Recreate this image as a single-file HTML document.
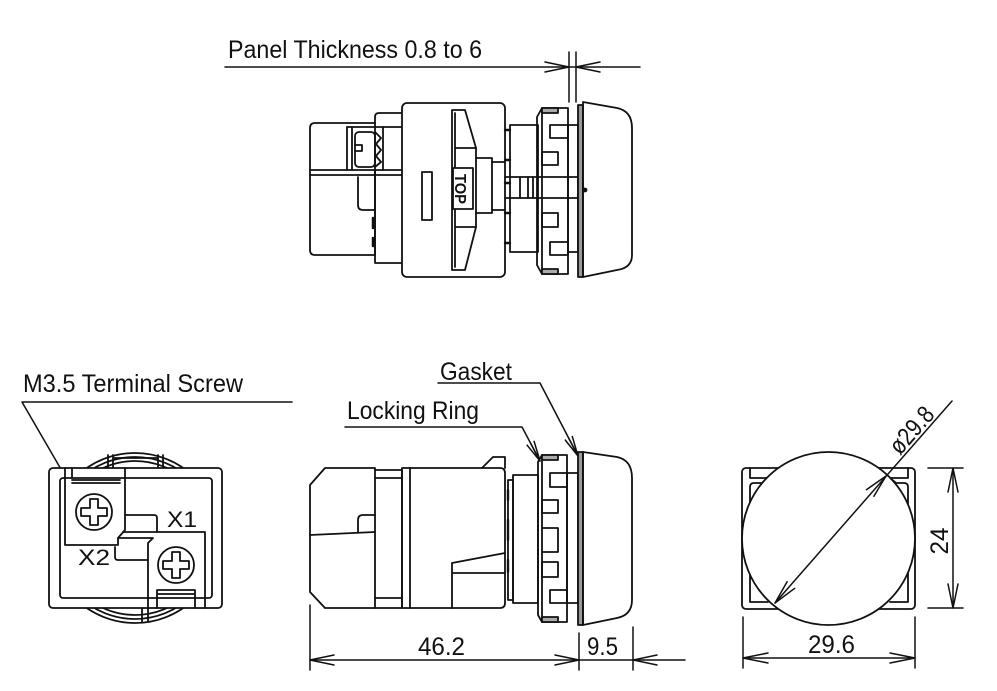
<!DOCTYPE html>
<html><head><meta charset="utf-8"><style>
html,body{margin:0;padding:0;background:#fff;}
svg{display:block;}
text{font-family:"Liberation Sans Narrow","Liberation Sans",sans-serif;fill:#111;}
</style></head><body>
<svg width="997" height="691" viewBox="0 0 997 691" xmlns="http://www.w3.org/2000/svg">
<rect width="997" height="691" fill="#fff"/>

<g fill="none" stroke="#111" stroke-width="1.8" stroke-linejoin="round" stroke-linecap="round">

<!-- ============ DIMENSIONS / LEADERS ============ -->
<g stroke-width="1.5">
  <path d="M225,67 H640"/>
  <path d="M545,62 L569,67 L545,72"/>
  <path d="M600,62 L576,67 L600,72"/>
  <path d="M569,52 V102 M576,52 V102"/>
  <path d="M310,605 V670 M579,633 V670 M633,627 V670 M310,660 H685"/>
  <path d="M334,655 L310,660 L334,665"/>
  <path d="M555,655 L579,660 L555,665"/>
  <path d="M657,655 L633,660 L657,665"/>
  <path d="M928,468 H963 M928,608 H963 M953,468 V608"/>
  <path d="M948,492 L953,468 L958,492"/>
  <path d="M948,584 L953,608 L958,584"/>
  <path d="M743,617 V668 M915,617 V668 M743,658 H915"/>
  <path d="M768,653 L743,658 L768,663"/>
  <path d="M890,653 L915,658 L890,663"/>
  <path d="M438,383 H540 L578,456"/>
  <path d="M572.3,436.5 L578,456 L565.3,440.1 M568.8,438.3 L578,456"/>
  <path d="M345,427 H522 L540,461"/>
  <path d="M534.1,441.4 L540,461 L527.1,445.2 M530.6,443.3 L540,461"/>
  <path d="M22,402 H292 M22,402 L80,502"/>
  <path d="M73.5,482.7 L80,502 L66.5,486.7 M70,484.7 L80,502"/>
</g>

<!-- ============ TOP VIEW ============ -->
<path d="M315,123 H375 V255 H315 Q310,255 310,250 V128 Q310,123 315,123 Z"/>
<path d="M375,123 V117 Q375,113 379,113 H402"/>
<path d="M375,170 V263 H402"/>
<path d="M347,127 H407 M310,170 H407 M310,175 H407"/>
<path d="M347,127 V170 M352,127 V170"/>
<rect x="355" y="132" width="20" height="35" rx="4"/>
<path d="M355,145 H362 V151 H355"/>
<path d="M375,132 L381,138 L376,144 L381,150 L376,156 L381,162 L375,167"/>
<path d="M383,127 V170"/>
<path d="M358,177 V205 Q358,210 363,210 H375"/>
<path d="M373,218 V228 M373,238 V246" stroke-width="2.5"/>
<rect x="402" y="103" width="103" height="174" rx="5" fill="#fff"/>
<rect x="422" y="172" width="10" height="48"/>
<path d="M452,270 V110 H465 L476,148 V227 L465,270 Z"/>
<path d="M455,113 V267"/>
<path d="M455,148 H476 M455,227 H476"/>
<path d="M476,158 H492 V213 H476"/>
<path d="M492,162 H505 M492,210 H505"/>
<rect x="453" y="168" width="20" height="41" fill="#fff"/>
<rect x="510" y="125" width="28" height="127"/>
<path d="M505,130 H510 M505,160 H510 M505,183 H510 M505,213 H510 M505,243 H510" stroke-width="2.4"/>
<path d="M505,177 H578 M505,198 H578"/>
<path d="M520,177 V198 M528,177 V198 M533,177 V198"/>
<path d="M537,117 L542,108 H568 V274 H542 L537,265 Z"/>
<path d="M542,108 V274"/>
<rect x="542" y="108" width="16" height="5" fill="#aaa"/>
<rect x="542" y="269" width="16" height="5" fill="#aaa"/>
<rect x="550" y="125" width="18" height="13"/>
<rect x="542" y="152" width="16" height="13"/>
<rect x="542" y="213" width="16" height="14"/>
<rect x="550" y="242" width="18" height="13"/>
<rect x="568" y="125" width="10" height="127"/>
<rect x="578" y="105" width="5" height="172" fill="#999"/>
<path d="M583,102 L617,108 Q632,111 632,128 V255 Q632,268 617,270 L583,277 Z"/>
<circle cx="585" cy="190" r="1.5" fill="#111"/>

<!-- ============ BOTTOM MIDDLE SIDE VIEW ============ -->
<path d="M325,468 H375 V608 H325 L310,592 V485 Z"/>
<path d="M310,535 L375,532"/>
<path d="M358,532 V520 Q358,515 363,515 H375"/>
<path d="M375,470 H402 V608 H375 M375,478 H402 M375,598 H402"/>
<path d="M402,468 H500 Q505,468 505,473 V603 Q505,608 500,608 H402 Z"/>
<path d="M410,468 V608"/>
<path d="M482,468 L493,457 H505 V468"/>
<path d="M452,608 V563 L505,553 M452,573 H505"/>
<path d="M508,480 H513 V600 H508 Z"/>
<path d="M508,490 V500 M508,520 V540 M508,560 V572" stroke-width="2.4"/>
<rect x="513" y="475" width="25" height="128"/>
<path d="M538,462 L542,455 H567 V622 H542 L538,615 Z"/>
<path d="M542,455 V622"/>
<rect x="542" y="455" width="16" height="5" fill="#aaa"/>
<rect x="542" y="617" width="16" height="5" fill="#aaa"/>
<rect x="550" y="473" width="17" height="14"/>
<rect x="542" y="500" width="16" height="13"/>
<path d="M542,528 H558 V552 H542"/>
<rect x="542" y="562" width="16" height="15"/>
<rect x="550" y="590" width="17" height="13"/>
<rect x="567" y="473" width="11" height="130"/>
<rect x="578" y="452" width="5" height="173" fill="#999"/>
<path d="M583,452 L617,457 Q632,460 632,478 V600 Q632,615 617,618 L583,625 Z"/>

<!-- ============ BOTTOM LEFT REAR VIEW ============ -->
<circle cx="135" cy="538" r="85"/>
<circle cx="135" cy="538" r="81"/>
<circle cx="135" cy="538" r="77"/>
<path d="M108,455 V468 M113,455 V468 M158,455 V468 M163,455 V468 M113,458 H158"/>
<path d="M142,608 V622 M148,608 V622"/>
<rect x="49" y="468" width="173" height="140" rx="4" fill="#fff"/>
<rect x="60" y="478" width="152" height="120" rx="3"/>
<path d="M65,468 V545 H117"/>
<path d="M72,468 V478"/>
<path d="M125,468 V530 L118,538 V545"/>
<path d="M72,480 H120 M72,483 H120"/>
<path d="M125,515 H154 Q157,515 157,518 V532"/>
<path d="M123,532 H205 V608"/>
<path d="M118,538 H153 L148,543 V608"/>
<path d="M115,547 V557 Q115,560 118,560 H148"/>
<path d="M157,590 H195 M157,594 H195 M157,590 V608 M195,590 V608"/>
<circle cx="94" cy="512" r="18" fill="#fff"/>
<path d="M90,499 H98 V508 H107 V516 H98 V525 H90 V516 H81 V508 H90 Z"/>
<circle cx="176" cy="565" r="18" fill="#fff"/>
<path d="M172,552 H180 V561 H189 V569 H180 V578 H172 V569 H163 V561 H172 Z"/>

<!-- ============ BOTTOM RIGHT FRONT VIEW ============ -->
<rect x="742" y="468" width="173" height="141" rx="4"/>
<path d="M750,468 V478 H768 M750,510 V487 Q750,483 754,483 H762 L768,478"/>
<path d="M908,468 V478 H890 M908,510 V487 Q908,483 904,483 H896 L890,478"/>
<path d="M750,570 V602 H768 M908,570 V602 H890"/>
<circle cx="828.5" cy="538.5" r="86.5" fill="#fff"/>
<g stroke-width="1.5">
  <path d="M775,603 L952,401"/>
  <path d="M873.9,496.3 L886,476 L866.4,489.7"/>
  <path d="M794.7,588.3 L775,603 L787.1,581.7"/>
</g>
</g>

<!-- ============ TEXT ============ -->
<text x="228" y="58" font-size="25" textLength="254" lengthAdjust="spacingAndGlyphs">Panel Thickness 0.8 to 6</text>
<text x="23" y="392" font-size="25" textLength="220" lengthAdjust="spacingAndGlyphs">M3.5 Terminal Screw</text>
<text x="440" y="380" font-size="25" textLength="72" lengthAdjust="spacingAndGlyphs">Gasket</text>
<text x="347" y="419" font-size="25" textLength="132" lengthAdjust="spacingAndGlyphs">Locking Ring</text>
<text x="418" y="655" font-size="25" textLength="47" lengthAdjust="spacingAndGlyphs">46.2</text>
<text x="587" y="655" font-size="25" textLength="31" lengthAdjust="spacingAndGlyphs">9.5</text>
<text x="808" y="653" font-size="25" textLength="47" lengthAdjust="spacingAndGlyphs">29.6</text>
<text x="167" y="527" font-size="22" textLength="30" lengthAdjust="spacingAndGlyphs">X1</text>
<text x="78" y="565" font-size="22" textLength="32" lengthAdjust="spacingAndGlyphs">X2</text>
<text transform="translate(948,541) rotate(-90)" font-size="25" text-anchor="middle" textLength="27" lengthAdjust="spacingAndGlyphs">24</text>
<text transform="translate(900,456) rotate(-48.6)" font-size="25" textLength="54" lengthAdjust="spacingAndGlyphs">ø29.8</text>
<text transform="translate(461,189) rotate(90)" y="6" font-size="16" font-weight="bold" text-anchor="middle" textLength="30" lengthAdjust="spacingAndGlyphs" style="font-family:'Liberation Sans',sans-serif">TOP</text>
</svg>
</body></html>
